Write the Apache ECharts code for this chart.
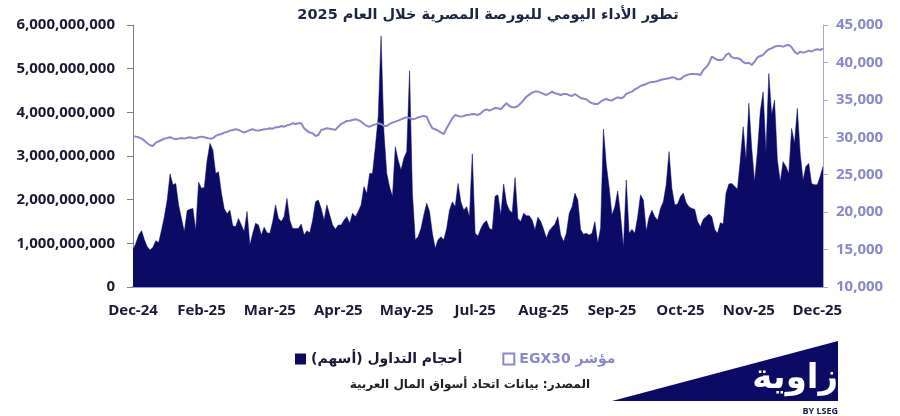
<!DOCTYPE html>
<html><head><meta charset="utf-8">
<script src="https://cdn.jsdelivr.net/npm/echarts@6/dist/echarts.min.js"></script>
<style>html,body{margin:0;padding:0;background:#fff}#c{width:900px;height:416px}</style>
</head><body><div id="c"></div>
<script>
const titleText = 'تطور الأداء اليومي للبورصة المصرية خلال العام 2025';
const volumeName = 'أحجام التداول (أسهم)';
const egxName = 'مؤشر EGX30';
const sourceText = 'المصدر: بيانات اتحاد أسواق المال العربية';
const tickLabels = ['Dec-24','Feb-25','Mar-25','Apr-25','May-25','Jul-25','Aug-25','Sep-25','Oct-25','Nov-25','Dec-25'];
const tickEvery = 24;
// daily traded volume, in millions of shares
const volumeMillions = [
850,1000,1190,1290,1080,920,850,910,1060,1020,
1300,1610,1990,2590,2340,2370,1880,1570,1270,1750,
1780,1800,1300,2400,2260,2280,2900,3290,3140,2600,
2640,2160,1790,1680,1760,1400,1380,1570,1420,1270,
1730,960,1230,1460,1420,1190,1370,1240,1230,1500,
1880,1570,1500,1610,2030,1530,1340,1340,1340,1440,
1190,1290,1240,1530,1950,1990,1800,1530,1880,
1650,1420,1320,1420,1420,1530,1610,1460,1690,1610,
1730,1880,2300,2140,2600,2600,3210,3900,5750,3550,
2600,2290,2070,3210,2900,2680,2950,3100,4950,2150,
1080,1150,1340,1650,1920,1730,1230,890,1080,1150,
1080,1340,1760,1950,1840,2370,1950,1760,1840,1610,
3050,1230,1170,1340,1460,1520,1340,1310,2080,2110,
1650,2360,1920,1760,1700,2510,1570,1500,1690,1630,
1630,1530,1310,1600,1500,1320,1120,1290,1370,1440,
1610,1190,1040,1230,1690,1840,2150,1990,1310,1210,
1230,1190,1230,1500,1000,1350,3620,2800,2280,1650,
1840,2200,1650,910,2450,1230,1320,1230,1610,2110,
1990,1280,1600,1760,1610,1530,1800,1950,2340,
3100,2260,1880,1900,2070,2150,1930,1840,1800,1780,
1500,1380,1550,1610,1670,1610,1320,1230,1470,1440,
2150,2360,2370,2310,2240,2910,3670,2910,4210,3180,
2410,3100,4020,4470,3100,4890,3940,4280,2910,2410,
2870,2760,2600,3630,3290,4090,3060,2450,2760,2830,
2370,2340,2340,2530,2760
];
const egx30 = [
30180,30090,30000,29820,29550,29200,28930,28840,29280,29460,
29640,29820,29910,30000,29860,29730,29820,29910,29820,29950,
30000,29910,29860,30000,30090,30000,29910,29820,29860,30180,
30350,30440,30620,30710,30890,30980,31070,30980,30800,30620,
30800,30980,31070,30930,30890,30980,31070,31110,31200,31150,
31330,31330,31510,31420,31600,31690,31870,31780,31870,31870,
31200,30890,30620,30530,30180,30310,30980,31070,31200,
31150,31070,30980,31420,31780,31960,32180,32220,32310,32400,
32310,32090,31780,31510,31420,31600,31730,31870,31780,31510,
31510,31780,31960,32090,32220,32400,32540,32670,32580,32400,
32490,32670,32760,32850,32760,31870,31200,31070,30890,30620,
30440,31200,31870,32540,32980,32850,32760,32850,32980,33020,
33110,33070,32980,33200,33560,33740,33560,33740,33920,33870,
33740,34180,34540,34180,34000,34000,34180,34540,34980,35430,
35700,35960,36100,36100,35960,35790,35650,35870,36100,35870,
35790,35650,35790,35790,35610,35520,35790,35520,35250,35160,
35070,34760,34540,34450,34450,34760,34980,35120,34980,34900,
35160,35340,35210,35340,35790,35960,36100,36410,36590,36850,
36990,37120,37300,37390,37430,37520,37660,37740,37830,
37880,38010,37970,37740,37740,38100,38280,38410,38460,38460,
38410,38320,38990,39350,39880,40770,40550,40330,40330,40420,
41000,41220,40680,40600,40550,40420,40060,39880,39970,39660,
40100,40680,40860,41000,41440,41750,41890,42110,42200,42200,
42110,42290,42330,42020,41440,41130,41440,41310,41400,41570,
41440,41660,41750,41660,41840
];

const categories = volumeMillions.map((_, i) => (i % tickEvery === 0 && tickLabels[i / tickEvery]) ? tickLabels[i / tickEvery] : '');
const rtl = s => '\u202B' + s + '\u202C';
const NAVY = '#0b0b66';
const LAV = '#8a87cf';
const DARK = '#1a1a33';
const NUMF = "'Open Sans', 'DejaVu Sans', sans-serif";
const ARF = "'DejaVu Sans', 'Noto Sans', sans-serif";

const chart = echarts.init(document.getElementById('c'), null, {renderer: 'canvas'});
chart.setOption({
  animation: false,
  backgroundColor: '#fff',
  title: {
    text: rtl(titleText), left: 483, top: 3, textAlign: 'center',
    textStyle: {fontFamily: ARF, fontWeight: 'bold', fontSize: 14.5, color: '#1c2640'}
  },
  grid: {left: 133, right: 77, top: 25, bottom: 129, containLabel: false, outerBoundsMode: 'none'},
  legend: {
    left: 290, top: 347, itemGap: 40, itemWidth: 11, itemHeight: 11,
    formatter: n => rtl(n),
    textStyle: {fontFamily: ARF, fontWeight: 'bold', fontSize: 14},
    data: [
      {name: volumeName, icon: 'rect', itemStyle: {color: NAVY, borderWidth: 0}, textStyle: {color: DARK}},
      {name: egxName, icon: 'rect', itemStyle: {color: 'rgba(0,0,0,0)', borderColor: LAV, borderWidth: 2}, lineStyle: {width: 0}, textStyle: {color: LAV}}
    ]
  },
  xAxis: {
    type: 'category', data: categories, boundaryGap: false,
    axisLine: {show: true, lineStyle: {color: '#9c99da', width: 2}},
    axisTick: {show: false},
    axisLabel: {interval: tickEvery - 1, margin: 16, color: DARK, fontFamily: NUMF, fontWeight: 'bold', fontSize: 15}
  },
  yAxis: [
    {
      type: 'value', min: 0, max: 6000, interval: 1000, position: 'left',
      splitLine: {show: false},
      axisLine: {show: true, lineStyle: {color: '#7f7f7f', width: 1}},
      axisTick: {show: true, length: 6, lineStyle: {color: '#7f7f7f'}},
      axisLabel: {margin: 18, color: DARK, fontFamily: NUMF, fontWeight: 'bold', fontSize: 15,
        formatter: v => (v * 1e6).toLocaleString('en-US')}
    },
    {
      type: 'value', min: 10000, max: 45000, interval: 5000, position: 'right',
      splitLine: {show: false},
      axisLine: {show: true, lineStyle: {color: '#a9a7d6', width: 1}},
      axisTick: {show: true, length: 5, lineStyle: {color: '#a9a7d6'}},
      axisLabel: {margin: 13, color: LAV, fontFamily: NUMF, fontWeight: 'bold', fontSize: 15,
        formatter: v => v.toLocaleString('en-US')}
    }
  ],
  series: [
    {
      name: volumeName, type: 'line', yAxisIndex: 0, data: volumeMillions,
      symbol: 'none', lineStyle: {width: 0.5, color: NAVY}, itemStyle: {color: NAVY},
      areaStyle: {color: NAVY, opacity: 1}, z: 2
    },
    {
      name: egxName, type: 'line', yAxisIndex: 1, data: egx30,
      symbol: 'none', lineStyle: {width: 2, color: LAV}, itemStyle: {color: LAV}, z: 3
    }
  ],
  graphic: [
    {type: 'text', x: 590, y: 385,
      style: {text: rtl(sourceText), fill: '#222', font: "bold 12px 'DejaVu Sans', sans-serif", align: 'right', verticalAlign: 'middle'}},
    {type: 'polygon', shape: {points: [[612, 401], [838, 341], [838, 401]]}, style: {fill: NAVY}},
    {type: 'text', x: 838, y: 379,
      style: {text: rtl('زاوية'), fill: '#fff', font: "bold 34px 'DejaVu Sans', sans-serif", align: 'right', verticalAlign: 'middle'}},
    {type: 'text', x: 838, y: 411,
      style: {text: 'BY LSEG', fill: '#1b1b4a', font: "bold 9px 'Open Sans', sans-serif", align: 'right', verticalAlign: 'middle'}}
  ]
});
</script>
</body></html>
